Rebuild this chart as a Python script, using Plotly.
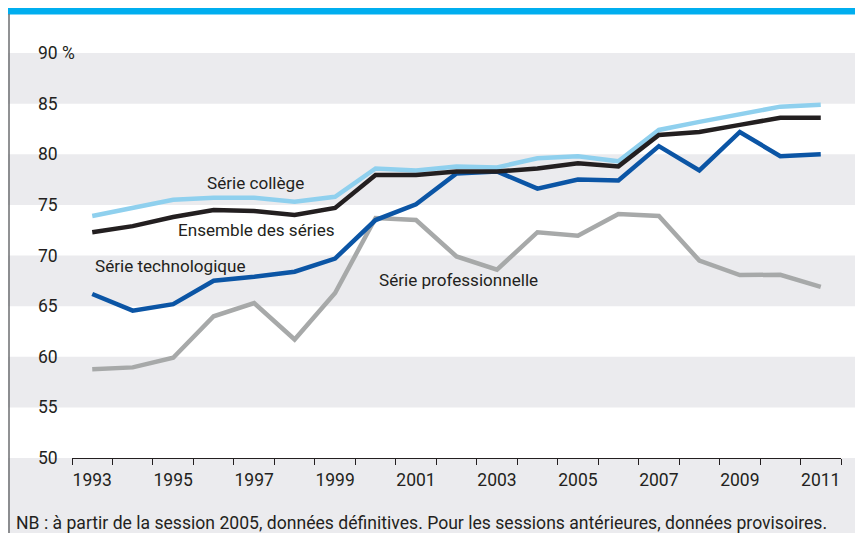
import plotly.graph_objects as go

years = list(range(1993, 2012))
college = [73.9, 74.7, 75.5, 75.7, 75.7, 75.3, 75.8, 78.6, 78.4, 78.8, 78.7, 79.6, 79.8, 79.3, 82.4, 83.2, 83.9, 84.7, 84.9]
ensemble = [72.3, 72.9, 73.8, 74.5, 74.4, 74.0, 74.7, 77.95, 77.95, 78.3, 78.3, 78.6, 79.1, 78.8, 81.9, 82.2, 82.9, 83.6, 83.6]
techno = [66.2, 64.55, 65.2, 67.5, 67.9, 68.4, 69.7, 73.5, 75.05, 78.1, 78.3, 76.6, 77.5, 77.4, 80.8, 78.4, 82.2, 79.8, 80.0]
pro = [58.76, 58.95, 59.9, 64.0, 65.3, 61.7, 66.3, 73.7, 73.5, 69.9, 68.6, 72.3, 71.96, 74.1, 73.9, 69.5, 68.07, 68.1, 66.9]

ytick_vals = [50, 55, 60, 65, 70, 75, 80, 85, 90]
ytick_text = ["50", "55", "60", "65", "70", "75", "80", "85", "90 %"]
xtick_vals = list(range(1993, 2012, 2))
xtick_text = [str(y) for y in xtick_vals]

series_names = ["Série professionnelle", "Série technologique", "Série collège", "Ensemble des séries"]
series_vals = [pro, techno, college, ensemble]
series_colors = ["#a7a9a9", "#0b55a5", "#8fd0ee", "#231f20"]

label_pos = {  # (x, y) data coords for inline labels
    "Série collège": (1995.78, 77.2),
    "Ensemble des séries": (1995.07, 72.5),
    "Série technologique": (1993.02, 69.0),
    "Série professionnelle": (2000.04, 67.6),
}

FONT = "Roboto, Liberation Sans, sans-serif"
OFF = 8  # page body margin
W, H = 863 - OFF, 533 - OFF
L, R, T, B = 72 - OFF, 22, 53 - OFF, 75
YMIN, YMAX = 50, 90
XMIN, XMAX = 1992.5, 2011.5

def px2paper_x(px):
    # px given in page coordinates
    return (px - OFF - L) / (W - L - R)

def px2paper_y(py):
    return (H - B - (py - OFF)) / (H - T - B)

def val2paper_y(v):
    return (v - YMIN) / (YMAX - YMIN)

fig = go.Figure()
for name, vals, col in zip(series_names, series_vals, series_colors):
    fig.add_trace(go.Scatter(x=years, y=vals, mode="lines", name=name,
                             line=dict(color=col, width=4.5), showlegend=False))

shapes = []
band = "#ebebee"
for lo, hi in [(85, 90), (75, 80), (65, 70), (55, 60)]:
    shapes.append(dict(type="rect", xref="paper", yref="paper", layer="below",
                       x0=px2paper_x(8), x1=px2paper_x(870), y0=val2paper_y(lo), y1=val2paper_y(hi),
                       fillcolor=band, line=dict(width=0)))
shapes.append(dict(type="rect", xref="paper", yref="paper", layer="below",
                   x0=px2paper_x(8), x1=px2paper_x(870), y0=px2paper_y(540), y1=val2paper_y(50),
                   fillcolor=band, line=dict(width=0)))
# top cyan bar
shapes.append(dict(type="rect", xref="paper", yref="paper",
                   x0=px2paper_x(8), x1=px2paper_x(870), y0=px2paper_y(14.5), y1=px2paper_y(6),
                   fillcolor="#00aeef", line=dict(width=0)))
# left vertical rule
shapes.append(dict(type="line", xref="paper", yref="paper",
                   x0=px2paper_x(9), x1=px2paper_x(9), y0=px2paper_y(14), y1=px2paper_y(540),
                   line=dict(color="#6d6e70", width=1.5)))

annotations = []
for v, t in zip(ytick_vals, ytick_text):
    annotations.append(dict(x=px2paper_x(36), y=v, xref="paper", yref="y", text=t,
                            showarrow=False, xanchor="left", yanchor="middle",
                            font=dict(family=FONT, size=17.5, color="#231f20")))
for name, (xx, yy) in label_pos.items():
    annotations.append(dict(x=xx, y=yy, xref="x", yref="y", text=name, showarrow=False,
                            xanchor="left", yanchor="middle",
                            font=dict(family=FONT, size=17.1, color="#231f20")))
annotations.append(dict(x=px2paper_x(14), y=px2paper_y(523), xref="paper", yref="paper",
                        text="NB : à partir de la session 2005, données définitives. Pour les sessions antérieures, données provisoires.",
                        showarrow=False, xanchor="left", yanchor="middle",
                        font=dict(family=FONT, size=17.6, color="#231f20")))

fig.update_layout(
    width=W, height=H,
    margin=dict(l=L, r=R, t=T, b=B),
    paper_bgcolor="white", plot_bgcolor="rgba(0,0,0,0)",
    shapes=shapes, annotations=annotations,
    xaxis=dict(range=[XMIN, XMAX], tickvals=xtick_vals, ticktext=xtick_text,
               ticks="", showgrid=False, zeroline=False,
               showline=True, linecolor="#231f20", linewidth=1.2,
               ticklabelstandoff=6,
               tickfont=dict(family=FONT, size=17.5, color="#231f20"),
               minor=dict(tickvals=[y + 0.5 for y in range(1992, 2012)], ticks="outside",
                          ticklen=6, tickcolor="#231f20", tickwidth=1.2, showgrid=False)),
    yaxis=dict(range=[YMIN, YMAX], showticklabels=False, ticks="", showgrid=False,
               zeroline=False, showline=False),
)

fig.write_html("out.html")
